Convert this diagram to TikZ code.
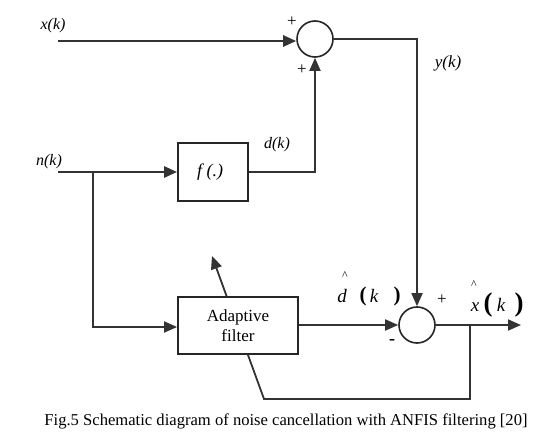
\documentclass[tikz,border=0pt]{standalone}
\usepackage{fontspec}
\setmainfont{Liberation Serif}
\usetikzlibrary{arrows.meta,backgrounds}
\begin{document}
\begin{tikzpicture}[x=1pt,y=-1pt,
  wire/.style={line width=1.8pt,draw=black!80},
  thick wire/.style={line width=2.6pt,draw=black!80},
  arr/.style={-{Triangle[length=13pt,width=11pt]}},
  sumnode/.style={circle,draw=black!85,line width=1.6pt,minimum size=36pt,inner sep=0pt,fill=white},
  blockbox/.style={rectangle,draw=black!85,line width=1.8pt,fill=white,inner sep=0pt},
  lab/.style={font=\fontsize{16}{18}\selectfont\itshape,inner sep=0pt},
  sign/.style={font=\fontsize{17}{19}\selectfont,inner sep=0pt},
  hatmark/.style={font=\fontsize{12}{13}\selectfont,inner sep=0pt},
  bigparen/.style={font=\fontsize{21}{23}\selectfont\bfseries,inner sep=0pt}]
\useasboundingbox (0,0) rectangle (535,438);

% nodes
\node[sumnode] (s1) at (315,39) {};
\node[sumnode] (s2) at (417,325) {};
\node[blockbox,minimum width=70pt,minimum height=58pt] (f) at (213,172) {};
\node[font=\fontsize{18}{20}\selectfont\itshape,inner sep=0pt] (ftext) at (210,172) {f (.)};
\node[blockbox,minimum width=120pt,minimum height=57pt,align=center,
      font=\fontsize{17}{20}\selectfont] (ad) at (238,325.5) {Adaptive\\filter};

% coordinates
\coordinate (xin) at (58,41);
\coordinate (nin) at (58,172);
\coordinate (nbr) at (93,172);
\coordinate (nbot) at (93,327);
\coordinate (dcorner) at (315,172);
\coordinate (ycorner) at (417,39);
\coordinate (xout) at (521,325);
\coordinate (fbr) at (470,325);
\coordinate (fbr2) at (470,399);
\coordinate (fbl) at (264,399);
\coordinate (ftip) at (212,256);

% connectors
\draw[thick wire,arr] (xin) -- (s1.west |- xin);
\draw[thick wire,arr] (nin) -- (f.west);
\draw[wire,arr] (nbr) -- (nbot) -- (ad.west |- nbot);
\draw[wire,arr] (f.east) -- (dcorner) -- (s1.south);
\draw[wire,arr] (s1.east) -- (ycorner) -- (s2.north);
\draw[wire,arr] (ad.east |- s2.west) -- (s2.west);
\draw[wire,arr] (s2.east) -- (xout);
\begin{pgfonlayer}{background}
\draw[wire,arr] (fbr) -- (fbr2) -- (fbl) -- (ftip);
\end{pgfonlayer}

% labels
\node[lab] (lx) at (53,26) {x(k)};
\node[lab] (ln) at (49,162) {n(k)};
\node[lab] (ld) at (277,145) {d(k)};
\node[lab,font=\fontsize{17}{19}\selectfont\itshape] (ly) at (448,63) {y(k)};
\node[sign] (p1) at (292,22) {+};
\node[sign] (p2) at (302,70) {+};
\node[sign] (p3) at (442,300) {+};
\node[sign,font=\fontsize{18}{20}\selectfont\bfseries] (m1) at (392,342) {-};

% d-hat (k)
\node[hatmark] (dh) at (345,276) {\textasciicircum};
\node[lab,font=\fontsize{19}{21}\selectfont\itshape] (dd) at (342,296) {d};
\node[bigparen] (dp1) at (363,296) {(};
\node[lab,font=\fontsize{19}{21}\selectfont\itshape] (dk) at (374,296) {k};
\node[bigparen] (dp2) at (397,296) {)};

% x-hat (k)
\node[hatmark] (xh) at (474,285) {\textasciicircum};
\node[lab,font=\fontsize{19}{21}\selectfont\itshape] (xx) at (475,307) {x};
\node[bigparen,font=\fontsize{27}{29}\selectfont\bfseries] (xp1) at (488,305) {(};
\node[lab,font=\fontsize{19}{21}\selectfont\itshape] (xk) at (501,305) {k};
\node[bigparen,font=\fontsize{27}{29}\selectfont\bfseries] (xp2) at (519,305) {)};

% caption
\node[font=\fontsize{16.6}{18}\selectfont,inner sep=0pt] (cap) at (286,421)
  {Fig.5 Schematic diagram of noise cancellation with ANFIS filtering [20]};
\end{tikzpicture}
\end{document}
